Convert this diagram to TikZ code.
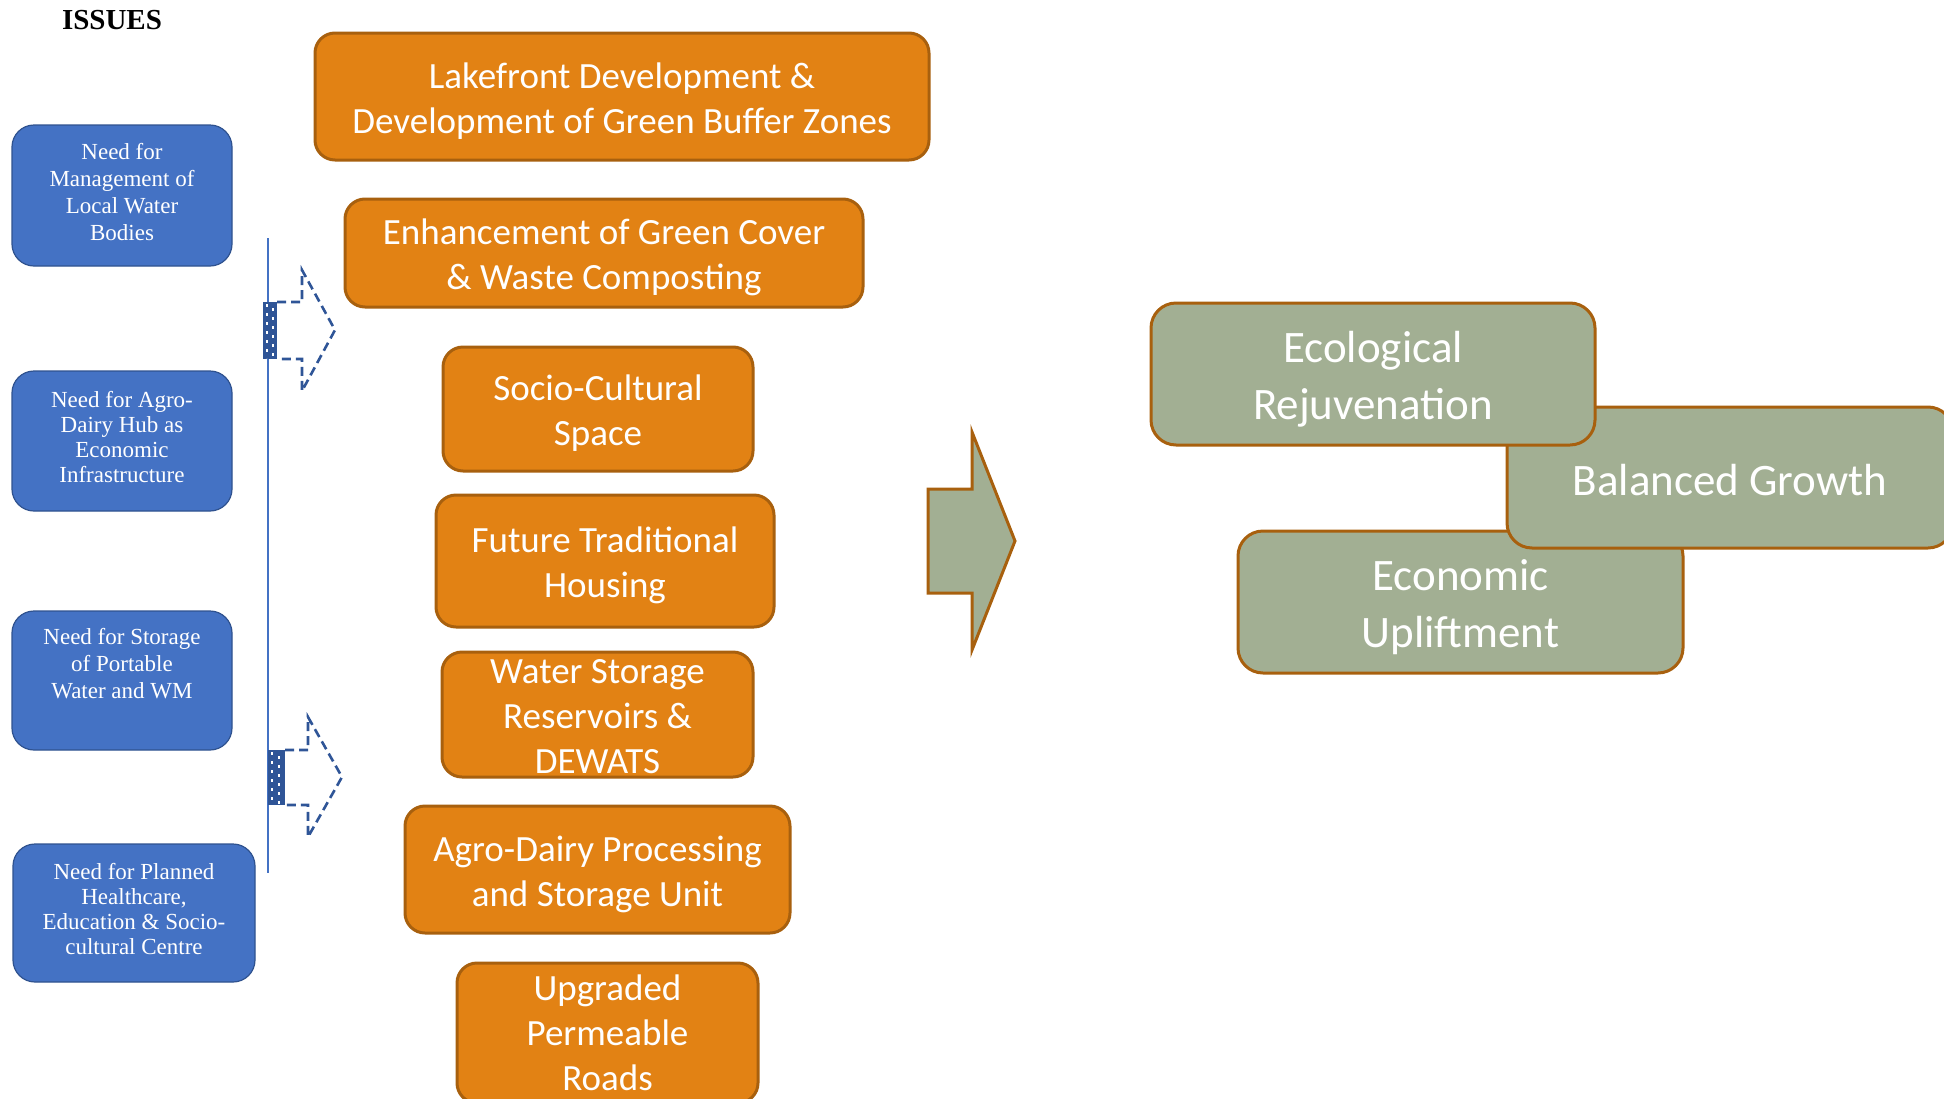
\documentclass[tikz,border=0pt]{standalone}
\usepackage{fontspec}
\setmainfont{Liberation Serif}
\newfontfamily\calib{Carlito}
\definecolor{issuefill}{HTML}{4472C4}
\definecolor{issueedge}{HTML}{2F528F}
\definecolor{solfill}{HTML}{E28214}
\definecolor{soledge}{HTML}{A8600E}
\definecolor{goalfill}{HTML}{A2AF93}
\definecolor{arrowblue}{HTML}{2F5597}
\begin{document}
\begin{tikzpicture}[x=1pt,y=-1pt,
  issue/.style={draw=issueedge, line width=1.2pt, fill=issuefill, rounded corners=22pt,
    text=white, align=center, inner sep=0pt, font=\fontsize{23}{#1}\selectfont,
    execute at end node={\rule[-8pt]{0pt}{0pt}}},
  issue/.default=26,
  sol/.style={draw=soledge, line width=3pt, fill=solfill, rounded corners=20pt, inner sep=0pt},
  soltext/.style={text=white, align=center, inner sep=0pt, yshift=-5pt,
    font=\calib\fontsize{37}{45}\selectfont},
  goal/.style={draw=soledge, line width=3pt, fill=goalfill, rounded corners=25pt, inner sep=0pt},
  goaltext/.style={text=white, align=center, inner sep=0pt, yshift=-5pt,
    font=\calib\fontsize{45}{57}\selectfont},
  dasharrow/.style={draw=arrowblue, line width=2.6pt, dash pattern=on 9pt off 5pt, line join=miter},
  hatch/.style={fill=arrowblue},
  hatchdots/.style={draw=white, line width=1.4pt, dash pattern=on 3pt off 6pt}
]
\useasboundingbox (0,0) rectangle (1944,1098);
\clip (0,0) rectangle (1944,1098);

% heading
\node[anchor=base, font=\bfseries\fontsize{29}{32}\selectfont] (title) at (112,29) {ISSUES};

% issue boxes
\node[issue=27, minimum width=220, minimum height=141] (i1) at (122,195.5)
  {Need for\\Management of\\Local Water\\Bodies};
\node[issue=25, minimum width=220, minimum height=140] (i2) at (122,441)
  {Need for Agro-\\Dairy Hub as\\Economic\\Infrastructure};
\node[issue=27, minimum width=220, minimum height=139] (i3) at (122,680.5)
  {Need for Storage\\of Portable\\Water and WM\\\mbox{}};
\node[issue=25, minimum width=242, minimum height=138] (i4) at (134,913)
  {Need for Planned\\Healthcare,\\Education \& Socio-\\cultural Centre};

% bracket line
\coordinate (lt) at (268,238);
\coordinate (lb) at (268,873);
\draw[issuefill, line width=1.5pt] (lt) -- (lb);

% dashed block arrows
\fill[hatch] (263,302) rectangle (277,359);
\draw[hatchdots] (267,304) -- (267,358);
\draw[hatchdots] (273,308) -- (273,358);
\draw[dasharrow] (277,302) -- (302,302) -- (302,270) -- (335,330) -- (302,391) -- (302,359) -- (277,359);

\fill[hatch] (268,750) rectangle (285,805);
\draw[hatchdots] (272,752) -- (272,804);
\draw[hatchdots] (279,756) -- (279,804);
\draw[dasharrow] (285,750) -- (308,750) -- (308,717) -- (342,777) -- (308,837) -- (308,805) -- (285,805);

% solution boxes
\node[sol, minimum width=614, minimum height=127] (s1) at (622,96.5) {};
\node[soltext] (s1t) at (s1.center) {Lakefront Development \&\\Development of Green Buffer Zones};
\node[sol, minimum width=518, minimum height=108] (s2) at (604,253) {};
\node[soltext, yshift=1pt] (s2t) at (s2.center) {Enhancement of Green Cover\\\& Waste Composting};
\node[sol, minimum width=310, minimum height=124] (s3) at (598,409) {};
\node[soltext, yshift=1pt] (s3t) at (s3.center) {Socio-Cultural\\Space};
\node[sol, minimum width=338, minimum height=132] (s4) at (605,561) {};
\node[soltext, yshift=1pt] (s4t) at (s4.center) {Future Traditional\\Housing};
\node[sol, minimum width=311, minimum height=125] (s5) at (597.5,714.5) {};
\node[soltext, yshift=3pt] (s5t) at (s5.center) {Water Storage\\Reservoirs \&\\DEWATS};
\node[sol, minimum width=385, minimum height=127] (s6) at (597.5,869.5) {};
\node[soltext] (s6t) at (s6.center) {Agro-Dairy Processing\\and Storage Unit};
\node[sol, minimum width=301, minimum height=140] (s7) at (607.5,1033) {};
\node[soltext, yshift=5pt] (s7t) at (s7.center) {Upgraded\\Permeable\\Roads};

% block arrow towards outcomes
\draw[soledge, fill=goalfill, line width=3pt, line join=miter]
  (928,489) -- (972,489) -- (972,432) -- (1015,541) -- (972,650) -- (972,593) -- (928,593) -- cycle;

% outcome boxes (later ones overlap earlier ones)
\node[goal, minimum width=445, minimum height=142] (g3) at (1460.5,602) {};
\node[goaltext] (g3t) at (g3.center) {Economic\\Upliftment};
\node[goal, minimum width=446, minimum height=141] (g2) at (1730,477.5) {};
\node[goaltext, yshift=2.5pt] (g2t) at (g2.center) {Balanced Growth};
\node[goal, minimum width=444, minimum height=142] (g1) at (1373,374) {};
\node[goaltext] (g1t) at (g1.center) {Ecological\\Rejuvenation};
\end{tikzpicture}
\end{document}
